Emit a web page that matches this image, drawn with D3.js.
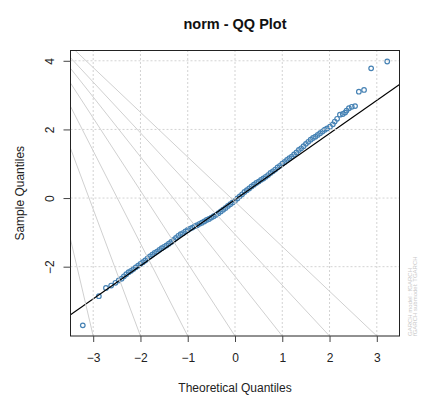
<!DOCTYPE html>
<html>
<head>
<meta charset="utf-8">
<script src="https://cdn.jsdelivr.net/npm/d3@7"></script>
<style>
  body { margin: 0; background: #fff; }
  text { font-family: "Liberation Sans", Arial, sans-serif; }
</style>
</head>
<body>
<div id="chart"></div>
<script>
// theoretical quantiles (x) and sample quantiles (y)
let theoQ = [-3.22, -2.88, -2.73, -2.62, -2.53, -2.46, -2.40,
  -2.35, -2.30, -2.25, -2.20, -2.15, -2.10, -2.05, -2.00, -1.95, -1.90, -1.85, -1.80, -1.75, -1.70,
  -1.65, -1.60, -1.55, -1.50, -1.45, -1.40, -1.35, -1.30, -1.25, -1.20, -1.15, -1.10, -1.05, -1.00,
  -0.95, -0.90, -0.85, -0.80, -0.75, -0.70, -0.65, -0.60, -0.55, -0.50, -0.45, -0.40, -0.35, -0.30,
  -0.25, -0.20, -0.15, -0.10, -0.05, 0.00, 0.05, 0.10, 0.15, 0.20, 0.25, 0.30, 0.35, 0.40, 0.45,
  0.50, 0.55, 0.60, 0.65, 0.70, 0.75, 0.80, 0.85, 0.90, 0.95, 1.00, 1.05, 1.10, 1.15, 1.20, 1.25,
  1.30, 1.35, 1.40, 1.45, 1.50, 1.55, 1.60, 1.65, 1.70, 1.75, 1.80, 1.85, 1.90, 1.95,
  2.01, 2.07, 2.11, 2.16, 2.22, 2.28, 2.33, 2.36, 2.41, 2.47, 2.54, 2.62, 2.73, 2.88, 3.22];
let sampleQ = [-3.71, -2.86, -2.62, -2.55, -2.47, -2.40, -2.35,
  -2.28, -2.22, -2.16, -2.12, -2.07, -2.02, -1.97, -1.92, -1.87, -1.82, -1.76, -1.70, -1.65, -1.60,
  -1.56, -1.51, -1.46, -1.42, -1.38, -1.33, -1.28, -1.22, -1.16, -1.10, -1.05, -1.02, -0.97, -0.93,
  -0.89, -0.86, -0.82, -0.79, -0.75, -0.72, -0.68, -0.64, -0.61, -0.57, -0.53, -0.49, -0.44, -0.39,
  -0.34, -0.29, -0.23, -0.18, -0.13, -0.08, -0.01, 0.05, 0.11, 0.18, 0.23, 0.28, 0.34, 0.39, 0.44,
  0.48, 0.53, 0.57, 0.62, 0.67, 0.73, 0.78, 0.83, 0.89, 0.94, 1.00, 1.05, 1.11, 1.16, 1.21, 1.27,
  1.33, 1.40, 1.45, 1.51, 1.58, 1.64, 1.70, 1.75, 1.79, 1.84, 1.89, 1.94, 1.99, 2.03,
  2.08, 2.15, 2.23, 2.31, 2.43, 2.45, 2.49, 2.55, 2.62, 2.66, 2.68, 3.10, 3.15, 3.78, 3.98];

// reference line (qqline)
let qqIntercept = -0.045;
let qqSlope = 0.964;

// light fan lines: where they meet the bottom edge (x) and the left edge (y)
let fanBottomX = [-3, -2, -1, 0, 1, 2, 3];
let fanLeftY = [-1.20, 1.45, 2.67, 3.35, 3.78, 4.09, 4.43];

let xTicks = [-3, -2, -1, 0, 1, 2, 3];
let yTicks = [-2, 0, 2, 4];

let titleText = "norm - QQ Plot";
let xLabel = "Theoretical Quantiles";
let yLabel = "Sample Quantiles";
let noteLines = ["GARCH model : fGARCH", "fGARCH submodel: TGARCH"];

var width = 430, height = 406;
var margin = {top: 50.5, right: 30.5, bottom: 70, left: 70.5};

var svg = d3.select("#chart")
  .append("svg")
    .attr("width", width)
    .attr("height", height);

var x = d3.scaleLinear()
  .domain([-3.48, 3.48])
  .range([margin.left, width - margin.right]);

var y = d3.scaleLinear()
  .domain([-4.02, 4.30])
  .range([height - margin.bottom, margin.top]);

var x0 = x.domain()[0], x1 = x.domain()[1];
var y0 = y.domain()[0], y1 = y.domain()[1];

svg.append("clipPath")
    .attr("id", "plotclip")
  .append("rect")
    .attr("x", x(x0))
    .attr("y", y(y1))
    .attr("width", x(x1) - x(x0))
    .attr("height", y(y0) - y(y1));

var plot = svg.append("g").attr("clip-path", "url(#plotclip)");

// points
let pts = theoQ.map((q, i) => ({q: q, s: sampleQ[i]}));
plot.selectAll("circle")
  .data(pts)
  .enter()
  .append("circle")
    .attr("cx", d => x(d.q))
    .attr("cy", d => y(d.s))
    .attr("r", 2.3)
    .style("fill", "none")
    .style("stroke", "steelblue")
    .style("stroke-width", 1.2);

// qq line
plot.append("line")
  .attr("x1", x(x0))
  .attr("y1", y(qqIntercept + qqSlope * x0))
  .attr("x2", x(x1))
  .attr("y2", y(qqIntercept + qqSlope * x1))
  .style("stroke", "#000")
  .style("stroke-width", 1.1);

// grid, dotted
plot.selectAll(".vgrid")
  .data(xTicks)
  .enter()
  .append("line")
    .attr("x1", d => x(d)).attr("x2", d => x(d))
    .attr("y1", y(y0)).attr("y2", y(y1))
    .style("stroke", "#d3d3d3")
    .style("stroke-dasharray", "2,2");

plot.selectAll(".hgrid")
  .data(yTicks)
  .enter()
  .append("line")
    .attr("y1", d => y(d)).attr("y2", d => y(d))
    .attr("x1", x(x0)).attr("x2", x(x1))
    .style("stroke", "#d3d3d3")
    .style("stroke-dasharray", "2,2");

// fan lines
plot.selectAll(".fan")
  .data(fanBottomX)
  .enter()
  .append("line")
    .attr("x1", d => x(d))
    .attr("y1", y(y0))
    .attr("x2", x(x0))
    .attr("y2", (d, i) => y(fanLeftY[i]))
    .style("stroke", "#d0d0d0")
    .style("stroke-width", 1);

// box
svg.append("rect")
  .attr("x", x(x0))
  .attr("y", y(y1))
  .attr("width", x(x1) - x(x0))
  .attr("height", y(y0) - y(y1))
  .style("fill", "none")
  .style("stroke", "#222")
  .style("stroke-width", 1);

// axes
var xAxis = svg.append("g")
  .attr("transform", "translate(0," + y(y0) + ")")
  .call(d3.axisBottom(x).tickValues(xTicks).tickSize(6).tickPadding(11).tickFormat(d3.format("d")));
xAxis.select(".domain").remove();
xAxis.selectAll("text").style("font-size", "12px").style("fill", "#222")
  .style("font-family", "'Liberation Sans', Arial, sans-serif");
xAxis.selectAll("line").style("stroke", "#444");

var yAxis = svg.append("g")
  .attr("transform", "translate(" + x(x0) + ",0)")
  .call(d3.axisLeft(y).tickValues(yTicks).tickSize(7).tickFormat(d3.format("d")));
yAxis.select(".domain").remove();
yAxis.selectAll("line").style("stroke", "#444");
// tick groups are already moved to y(d); just turn the labels
yAxis.selectAll("text")
  .attr("x", null).attr("dy", null)
  .attr("text-anchor", "middle")
  .attr("transform", "translate(" + (53.5 - x(x0)) + ",0) rotate(-90)")
  .style("font-size", "12px").style("fill", "#222")
  .style("font-family", "'Liberation Sans', Arial, sans-serif");

// titles
svg.append("text")
  .attr("x", x(0))
  .attr("y", 28.5)
  .attr("text-anchor", "middle")
  .style("font-size", "14.5px")
  .style("font-weight", "bold")
  .style("fill", "#111")
  .text(titleText);

svg.append("text")
  .attr("x", x(0))
  .attr("y", 392)
  .attr("text-anchor", "middle")
  .style("font-size", "12px")
  .style("fill", "#222")
  .text(xLabel);

svg.append("text")
  .attr("transform", "translate(24," + ((y(y0) + y(y1)) / 2) + ") rotate(-90)")
  .attr("text-anchor", "middle")
  .style("font-size", "12px")
  .style("fill", "#222")
  .text(yLabel);

// small model note on the right
svg.selectAll(".note")
  .data(noteLines)
  .enter()
  .append("text")
    .attr("transform", (d, i) => "translate(" + (411.5 + i * 5.5) + "," + y(y0) + ") rotate(-90)")
    .attr("text-anchor", "start")
    .style("font-size", "6px")
    .style("fill", "#c8c8c8")
    .text(d => d);
</script>
</body>
</html>
